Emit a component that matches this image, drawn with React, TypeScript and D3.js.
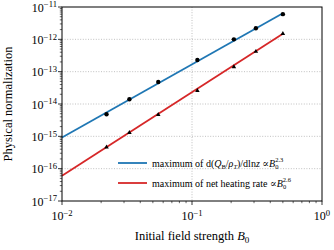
import * as d3 from 'd3';

// measured points (black markers)
const fieldB = [0.022, 0.033, 0.055, 0.11, 0.21, 0.31, 0.5];
const dQdlnz = [4.8e-15, 1.4e-14, 4.8e-14, 2.3e-13, 1.0e-12, 2.2e-12, 6.0e-12];
const fieldBHeat = [0.022, 0.033, 0.055, 0.11, 0.21, 0.31, 0.5];
const netHeating = [4.6e-16, 1.3e-15, 4.7e-15, 2.6e-14, 1.4e-13, 4.2e-13, 1.5e-12];

// power-law fit end points
const fitX = [0.01, 0.5];
const fitBlue = [9.2e-16, 6.4e-12];
const fitRed = [6.0e-17, 1.5e-12];

const yDecades = [-17, -16, -15, -14, -13, -12, -11];
const xDecades = [-2, -1, 0];

const W = 334;
const H = 250;
const margin = { top: 7, right: 12, bottom: 49, left: 62 };
const FONT = '"Liberation Serif", "DejaVu Serif", serif';

function Pow10({ x, y, exp, anchor, size }: { x: number; y: number; exp: number; anchor: string; size: number }) {
  const e = exp < 0 ? `\u2212${-exp}` : `${exp}`;
  return (
    <text x={x} y={y} textAnchor={anchor} fontSize={size} fontFamily={FONT} fill="#000">
      10<tspan dy={-size * 0.36} fontSize={size * 0.72}>{e}</tspan>
    </text>
  );
}

export default function App() {
  const iw = W - margin.left - margin.right;
  const ih = H - margin.top - margin.bottom;

  const x = d3.scaleLog().domain([1e-2, 1]).range([0, iw]);
  const y = d3.scaleLog().domain([1e-17, 1e-11]).range([ih, 0]);

  const line = d3.line<number>()
    .x((_, i) => x(fitX[i]))
    .y(d => y(d));

  const xMinor: number[] = [];
  for (let k = -2; k < 0; k++) for (let m = 2; m <= 9; m++) xMinor.push(m * Math.pow(10, k));
  const yMinor: number[] = [];
  for (let k = -17; k < -11; k++) for (let m = 2; m <= 9; m++) yMinor.push(m * Math.pow(10, k));

  const tri = d3.symbol().type(d3.symbolTriangle).size(9)();

  return (
    <svg width={W} height={H} style={{ position: 'absolute', left: 0, top: 0 }}>
      <rect width={W} height={H} fill="#fff" />
      <g transform={`translate(${margin.left},${margin.top})`}>
        {/* grid */}
        {yDecades.slice(1, -1).map(k => (
          <line key={'gy' + k} x1={0} x2={iw} y1={y(Math.pow(10, k))} y2={y(Math.pow(10, k))}
            stroke="#b0b0b0" strokeWidth={0.8} strokeDasharray="1,1.6" />
        ))}
        <line x1={x(0.1)} x2={x(0.1)} y1={0} y2={ih} stroke="#b0b0b0" strokeWidth={0.8} strokeDasharray="1,1.6" />

        {/* fits */}
        <path d={line(fitBlue) || ''} fill="none" stroke="#1f77b4" strokeWidth={1.8} />
        <path d={line(fitRed) || ''} fill="none" stroke="#d62728" strokeWidth={1.8} />

        {/* points */}
        {fieldB.map((b, i) => (
          <circle key={'c' + i} cx={x(b)} cy={y(dQdlnz[i])} r={2.2} fill="#000" />
        ))}
        {fieldBHeat.map((b, i) => (
          <path key={'t' + i} d={tri || ''} transform={`translate(${x(b)},${y(netHeating[i])})`} fill="#000" />
        ))}

        {/* spines */}
        <rect x={0} y={0} width={iw} height={ih} fill="none" stroke="#000" strokeWidth={1} />

        {/* x ticks */}
        {xDecades.map(k => (
          <g key={'xt' + k}>
            <line x1={x(Math.pow(10, k))} x2={x(Math.pow(10, k))} y1={ih} y2={ih + 4} stroke="#000" strokeWidth={0.8} />
            <Pow10 x={x(Math.pow(10, k))} y={ih + 19} exp={k} anchor="middle" size={12} />
          </g>
        ))}
        {xMinor.map((v, i) => (
          <line key={'xm' + i} x1={x(v)} x2={x(v)} y1={ih} y2={ih + 2.2} stroke="#000" strokeWidth={0.6} />
        ))}

        {/* y ticks */}
        {yDecades.map(k => (
          <g key={'yt' + k}>
            <line x1={-4} x2={0} y1={y(Math.pow(10, k))} y2={y(Math.pow(10, k))} stroke="#000" strokeWidth={0.8} />
            <Pow10 x={-5} y={y(Math.pow(10, k)) + 4.5} exp={k} anchor="end" size={12} />
          </g>
        ))}
        {yMinor.map((v, i) => (
          <line key={'ym' + i} x1={-2.2} x2={0} y1={y(v)} y2={y(v)} stroke="#000" strokeWidth={0.6} />
        ))}

        {/* legend */}
        <line x1={56} x2={85} y1={156} y2={156} stroke="#1f77b4" strokeWidth={1.8} />
        <text x={90} y={159.5} fontSize={10} fontFamily={FONT} fill="#000">
          maximum of d(<tspan fontStyle="italic">Q</tspan><tspan fontSize={6.5} dy={2}>B</tspan>
          <tspan dy={-2}>/</tspan><tspan fontStyle="italic">ρ</tspan><tspan fontSize={6.5} dy={2} fontStyle="italic">T</tspan>
          <tspan dy={-2}>)/dln</tspan><tspan fontStyle="italic">z</tspan> ∝<tspan fontStyle="italic">B</tspan>
          <tspan fontSize={6.5} dy={2}>0</tspan><tspan fontSize={6.5} dy={-6.5} dx={-3.3}>2.3</tspan>
        </text>
        <line x1={56} x2={85} y1={176} y2={176} stroke="#d62728" strokeWidth={1.8} />
        <text x={90} y={179.5} fontSize={10} fontFamily={FONT} fill="#000">
          maximum of net heating rate ∝<tspan fontStyle="italic">B</tspan>
          <tspan fontSize={6.5} dy={2}>0</tspan><tspan fontSize={6.5} dy={-6.5} dx={-3.3}>2.6</tspan>
        </text>
      </g>

      {/* axis labels */}
      <text x={margin.left + iw / 2} y={240} textAnchor="middle" fontSize={12.5} fontFamily={FONT} fill="#000">
        Initial field strength <tspan fontStyle="italic">B</tspan><tspan fontSize={9} dy={2.5}>0</tspan>
      </text>
      <text transform={`translate(12,${margin.top + ih / 2}) rotate(-90)`} textAnchor="middle" fontSize={12.5}
        fontFamily={FONT} fill="#000">
        Physical normalization
      </text>
    </svg>
  );
}
